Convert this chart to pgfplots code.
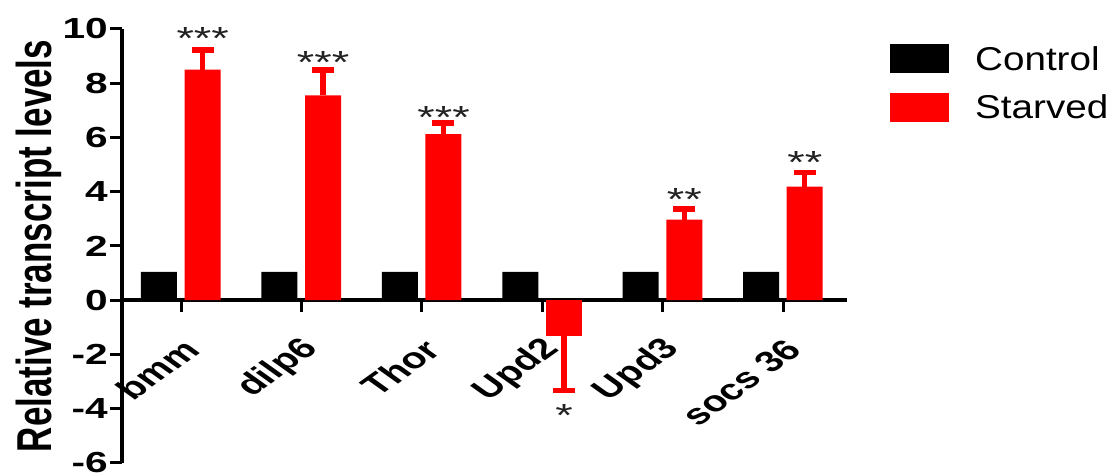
\documentclass[border=0pt]{standalone}
\usepackage{fontspec}
\setmainfont{Liberation Sans}
\usepackage{pgfplots}
\pgfplotsset{compat=1.18}
\definecolor{starcol}{HTML}{222222}
\begin{document}
\begin{tikzpicture}
\path[use as bounding box] (-122pt,-10pt) rectangle (987pt,463pt);
\begin{axis}[
  scale only axis,
  width=725pt, height=434pt,
  xmin=-0.49, xmax=5.53,
  ymin=-6, ymax=10,
  axis x line*=middle,
  axis y line*=left,
  axis line style={line width=4pt, black},
  xtick={0,1,2,3,4,5},
  xticklabels={bmm,dilp6,Thor,Upd2,Upd3,socs 36},
  ytick={-6,-4,-2,0,2,4,6,8,10},
  yticklabel={\scalebox{1.4}[1]{\pgfmathprintnumber[assume math mode=true]{\tick}}},
  yticklabel style={font=\bfseries\fontsize{29}{29}\selectfont, anchor=east, inner sep=2pt},
  xticklabel style={font=\bfseries\fontsize{29}{29}\selectfont, anchor=east, xshift=14pt, yshift=-30pt, xscale=1.4, rotate=45},
  xtick align=outside, ytick align=outside,
  major tick length=12pt,
  tick style={line width=3pt, black},
  ylabel={\scalebox{1}[1.4]{Relative transcript levels}},
  every axis y label/.style={at={(axis description cs:-0.115,0.5)}, rotate=90, anchor=center, font=\bfseries\fontsize{35}{35}\selectfont},
  clip=false,
  legend style={at={(axis description cs:1.0593,0.9654)}, anchor=north west, draw=none, fill=none, inner sep=0pt,
    row sep=19pt, font=\fontsize{33}{33}\selectfont,
    /tikz/every odd column/.append style={column sep=24pt}},
  legend cell align=left,
]
\addplot[ybar, bar width=36pt, bar shift=0pt, fill=black, draw=none,
  legend image code/.code={\fill[black] (0pt,-14.5pt) rectangle (59pt,14.5pt);}]
  coordinates {(-0.183,1.05) (0.817,1.05) (1.817,1.05) (2.817,1.05) (3.817,1.05) (4.817,1.05)};
\addlegendentry{\scalebox{1.17}[1]{Control}}
\addplot[ybar, bar width=36pt, bar shift=0pt, fill=red, draw=none,
  legend image code/.code={\fill[red] (0pt,-14.5pt) rectangle (59pt,14.5pt);},
  error bars/.cd, y dir=plus, y explicit, error mark=|,
  error bar style={line width=5.5pt, red},
  error mark options={red, line width=5.5pt, mark size=11pt}]
  coordinates {
    (0.179,8.50) +- (0,0.73)
    (1.179,7.55) +- (0,0.93)
    (2.179,6.12) +- (0,0.41)
    (4.179,2.97) +- (0,0.40)
    (5.179,4.19) +- (0,0.52)
  };
\addlegendentry{\scalebox{1.17}[1]{Starved}}
\addplot[ybar, bar width=36pt, bar shift=0pt, fill=red, draw=none, forget plot,
  error bars/.cd, y dir=minus, y explicit, error mark=|,
  error bar style={line width=5.5pt, red},
  error mark options={red, line width=5.5pt, mark size=11pt}]
  coordinates {
    (3.179,-1.31) +- (0,2.02)
  };
\addplot[only marks, mark=none, forget plot,
  nodes near coords, point meta=explicit symbolic,
  every node near coord/.append style={font=\fontsize{32}{32}\selectfont, text=starcol, anchor=center, yshift=-7pt, xscale=1.4}]
  coordinates {
    (0.18,9.89) [***]
    (1.18,9.04) [***]
    (2.18,7.01) [***]
    (3.18,-3.98) [*]
    (4.18,3.98) [**]
    (5.18,5.35) [**]
  };
\end{axis}
\end{tikzpicture}
\end{document}
